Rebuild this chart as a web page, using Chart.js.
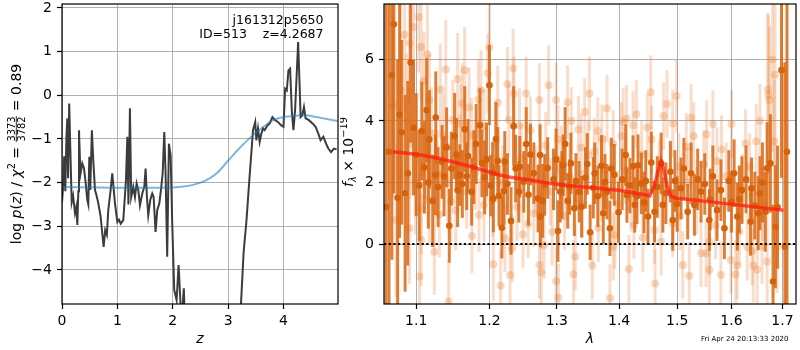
<!DOCTYPE html>
<html>
<head>
<meta charset="utf-8">
<script src="https://cdn.jsdelivr.net/npm/chart.js@4.4.1/dist/chart.umd.min.js"></script>
<style>
  html, body { margin: 0; padding: 0; background: #fff; overflow: hidden; }
  #wrap { position: relative; width: 800px; height: 350px; overflow: hidden; }
  canvas { position: absolute; top: -10px; }
  #pz { left: 0; }
  #spec { left: 340px; }
</style>
</head>
<body>
<div id="wrap">
  <canvas id="pz" width="340" height="360"></canvas>
  <canvas id="spec" width="460" height="360"></canvas>
</div>
<script>
const FONT = 'DejaVu Sans';
const OFF = 10; // both canvases start 10px above the page

// ---- left panel: log p(z) ----
const zGrid = [0.00, 0.02, 0.04, 0.06, 0.08, 0.096, 0.11, 0.13, 0.15, 0.175, 0.20, 0.235, 0.26, 0.277, 0.295,
  0.307, 0.325, 0.337, 0.367, 0.397, 0.427, 0.457, 0.475, 0.493, 0.51, 0.54, 0.565, 0.596, 0.625, 0.655,
  0.698, 0.734, 0.752, 0.78, 0.81, 0.836, 0.878, 0.908, 0.93, 0.957, 1.00, 1.03, 1.06, 1.107, 1.155,
  1.18, 1.20, 1.227, 1.25, 1.287, 1.318, 1.348, 1.378, 1.408, 1.45, 1.486, 1.51, 1.534, 1.558, 1.594,
  1.63, 1.655, 1.69, 1.72, 1.757, 1.787, 1.818, 1.847, 1.871, 1.90, 1.931, 1.962, 1.991, 2.027, 2.07,
  2.106, 2.14, 2.17, 2.20, 2.23, 2.40, 2.80, 3.10, 3.20, 3.28, 3.33, 3.39, 3.41, 3.45, 3.49,
  3.51, 3.54, 3.57, 3.60, 3.63, 3.66, 3.71, 3.75, 3.80, 3.84, 3.90, 3.96, 4.00, 4.03, 4.06,
  4.09, 4.12, 4.15, 4.18, 4.21, 4.24, 4.265, 4.29, 4.31, 4.34, 4.37, 4.40, 4.46, 4.53, 4.58,
  4.63, 4.67, 4.72, 4.77, 4.81, 4.86, 4.91, 4.96];
const logPz = [-2.45, -2.10, -1.40, -2.20, -0.95, -0.53, -1.90, -0.19, -1.20, -2.45, -2.30, -2.70, -2.55, -2.97, -2.20,
  -0.80, -1.50, -1.78, -1.56, -1.67, -2.00, -2.40, -2.50, -1.41, -2.17, -0.80, -1.49, -2.17, -2.30, -2.47,
  -2.78, -3.24, -3.47, -3.09, -3.20, -2.63, -2.17, -1.79, -2.10, -2.48, -2.90, -2.85, -2.94, -2.86, -1.95,
  -0.95, -2.50, -0.30, -2.33, -2.10, -2.33, -2.02, -2.17, -2.52, -2.25, -2.10, -1.68, -2.33, -2.75, -2.40,
  -2.25, -2.33, -3.13, -2.63, -2.48, -2.17, -1.79, -0.84, -1.79, -3.70, -1.11, -1.37, -2.94, -4.46, -4.69,
  -3.89, -4.76, -5.00, -4.42, -5.60, -9.00, -10.0, -8.00, -5.60, -3.60, -2.90, -1.83, -1.49, -0.80, -0.61,
  -1.03, -0.76, -1.07, -0.88, -0.76, -0.80, -0.69, -0.65, -0.50, -0.56, -0.61, -0.69, -0.72, 0.15, 0.11,
  0.57, 0.61, -0.34, -0.80, -0.34, 0.50, 1.22, 0.30, -0.50, -0.46, -0.27, -0.53, -0.57, -0.65, -0.72,
  -0.88, -1.03, -0.95, -1.11, -1.22, -1.30, -1.22, -1.24];
const priorZ = [0, 0.5, 1.0, 1.5, 2.0, 2.2, 2.4, 2.6, 2.8, 3.0, 3.2, 3.4, 3.6, 3.8, 4.0, 4.2, 4.4, 4.6, 4.8, 4.985];
const priorLogP = [-2.10, -2.11, -2.12, -2.12, -2.11, -2.09, -2.04, -1.95, -1.78, -1.50, -1.22, -0.97, -0.76,
  -0.58, -0.50, -0.47, -0.46, -0.50, -0.55, -0.59];
const zTicks = [0, 1, 2, 3, 4];
const pzTicks = [-4, -3, -2, -1, 0, 1, 2];
const zRange = [0, 4.985];
const pzRange = [-4.78, 2.09];

// ---- right panel: spectrum (units of 1e-19) ----
const darkWave = [1.0612, 1.0686, 1.0712, 1.0760, 1.0812, 1.0856, 1.0927, 1.0965, 1.1073, 1.1108, 1.1138, 1.1174,
  1.1218, 1.1253, 1.1343, 1.1405, 1.1441, 1.1514, 1.1555, 1.1586, 1.1653, 1.1698, 1.1749, 1.1812, 1.1894,
  1.1932, 1.2000, 1.2046, 1.2057, 1.2093, 1.2137, 1.2179, 1.2208, 1.2312, 1.2350, 1.2427, 1.2537, 1.2600,
  1.2714, 1.2750, 1.2784, 1.2860, 1.2950, 1.3019, 1.3054, 1.3080, 1.3100, 1.3130, 1.3170, 1.3220, 1.3275,
  1.3390, 1.3450, 1.3526, 1.3577, 1.3650, 1.3710, 1.3739, 1.3766, 1.3848, 1.3920, 1.3990, 1.4110, 1.4130,
  1.4234, 1.4262, 1.4318, 1.4375, 1.4450, 1.4488, 1.4545, 1.4602, 1.4717, 1.4747, 1.4921, 1.4960, 1.5068,
  1.5189, 1.5250, 1.5310, 1.5431, 1.5500, 1.5585, 1.5650, 1.5727, 1.5866, 1.5950, 1.6000, 1.6111, 1.6200,
  1.6366, 1.6385, 1.6515, 1.6550, 1.6657, 1.6692, 1.6757, 1.6810, 1.6857, 1.6980, 1.7048, 1.7091,
  1.0650, 1.0785, 1.0890, 1.1000, 1.1040, 1.1160, 1.1259, 1.1290, 1.1370, 1.1470, 1.1540, 1.1620, 1.1680,
  1.1780, 1.1866, 1.1960, 1.2020, 1.2120, 1.2221, 1.2260, 1.2380, 1.2441, 1.2500, 1.2570, 1.2650, 1.2745,
  1.2815, 1.2990, 1.3200, 1.3300, 1.3350, 1.3480, 1.3600, 1.3800, 1.3870, 1.4050, 1.4180, 1.4300, 1.4420,
  1.4650, 1.4800, 1.4880, 1.5000, 1.5120, 1.5370, 1.5600, 1.5800, 1.6050, 1.6150, 1.6280, 1.6450, 1.6600,
  1.6900];
const darkFlux = [1.20, 5.49, 7.14, 1.50, 3.63, 1.65, 5.90, 3.78, 3.67, 2.49, 4.35, 3.40,
  1.40, 2.24, 2.67, 3.14, 0.59, 3.51, 1.75, 2.24, 3.73, 2.86, 1.70, 3.25, 2.62,
  2.16, 5.16, 2.31, 1.48, 3.41, 1.57, 0.53, 1.72, 0.75, 3.83, 1.70, 3.25, 2.91,
  1.48, 0.89, 1.40, 2.47, 2.10, 0.42, 1.70, 1.92, 2.56, 3.25, 1.40, 2.62, 1.16,
  1.21, 2.15, 0.38, 1.83, 1.55, 2.54, 1.00, 2.02, 0.51, 2.25, 1.03, 2.89, 1.59,
  2.53, 1.27, 2.56, 1.97, 2.05, 0.89, 2.65, 1.05, 2.62, 1.27, 0.78, 2.05, 1.81,
  1.05, 2.30, 1.27, 1.70, 1.95, 0.78, 2.20, 1.10, 0.51, 2.05, 1.37, 0.89, 1.75,
  0.72, 1.81, 1.00, 1.65, 1.05, 2.46, 2.62, -1.22, 0.56, 5.65, -0.09, 3.00,
  3.00, 4.20, 2.30, 2.90, 1.90, 2.00, 4.11, 1.85, 2.20, 2.45, 2.90, 1.95, 2.20,
  2.50, 3.86, 2.75, 1.90, 2.70, 2.67, 1.95, 2.45, 2.51, 2.02, 1.60, 2.30, 2.89,
  1.92, 2.75, 1.85, 2.05, 1.70, 2.60, 2.30, 1.70, 2.45, 2.10, 1.90, 1.55, 1.35,
  1.85, 1.65, 2.35, 1.30, 2.45, 2.10, 1.45, 1.75, 2.30, 1.45, 2.10, 1.25, 2.00,
  1.20];
const darkErr = [8.0, 6.0, 5.5, 4.5, 3.0, 3.2, 2.6, 2.2, 1.6, 1.5, 1.7, 1.6,
  1.5, 1.3, 1.2, 1.3, 1.2, 1.4, 1.2, 1.0, 1.4, 1.2, 1.1, 1.3, 1.1,
  1.2, 1.3, 1.0, 1.1, 1.2, 1.0, 1.0, 1.1, 1.1, 1.3, 1.0, 1.2, 1.0,
  1.1, 1.0, 1.2, 1.0, 1.0, 1.0, 1.0, 1.1, 1.0, 1.2, 0.9, 1.0, 0.9,
  1.0, 1.0, 0.9, 1.0, 1.0, 1.0, 1.0, 0.9, 0.9, 1.0, 1.0, 1.0, 0.9,
  1.0, 0.9, 1.0, 1.0, 1.0, 0.9, 1.0, 1.0, 1.0, 0.9, 1.0, 1.0, 1.0,
  0.9, 1.0, 1.0, 1.0, 1.0, 1.0, 1.0, 1.0, 1.0, 1.0, 1.0, 1.1, 1.1,
  1.1, 1.0, 1.2, 1.2, 1.3, 1.5, 1.6, 2.5, 2.0, 3.5, 6.0, 6.5,
  7.0, 4.0, 3.0, 2.0, 1.8, 1.5, 1.5, 1.3, 1.3, 1.2, 1.2, 1.1, 1.1,
  1.2, 1.2, 1.2, 1.0, 1.1, 1.0, 1.0, 1.1, 1.0, 1.0, 1.0, 1.0, 1.0,
  1.0, 1.0, 0.9, 0.9, 1.0, 1.0, 1.0, 0.9, 1.0, 1.0, 0.9, 0.9, 1.0,
  1.0, 1.0, 1.0, 0.9, 1.0, 1.0, 1.0, 1.0, 1.1, 1.1, 1.1, 1.1, 1.3,
  2.0];

const lightWave = [1.0740, 1.0800, 1.0850, 1.0913, 1.0913, 1.0920, 1.0965, 1.1034, 1.1043, 1.1065, 1.1065, 1.1065,
  1.1121, 1.1148, 1.1174, 1.1174, 1.1240, 1.1307, 1.1320, 1.1394, 1.1432, 1.1464, 1.1489, 1.1555, 1.1590,
  1.1616, 1.1653, 1.1714, 1.1749, 1.1753, 1.1844, 1.1853, 1.1923, 1.1923, 1.1978, 1.2000, 1.2046, 1.2056,
  1.2119, 1.2160, 1.2224, 1.2280, 1.2298, 1.2330, 1.2343, 1.2354, 1.2438, 1.2488, 1.2536, 1.2566, 1.2674,
  1.2734, 1.2736, 1.2762, 1.2805, 1.2875, 1.2928, 1.2990, 1.2990, 1.3019, 1.3025, 1.3070, 1.3168, 1.3228,
  1.3261, 1.3289, 1.3339, 1.3382, 1.3497, 1.3515, 1.3561, 1.3593, 1.3649, 1.3658, 1.3710, 1.3716, 1.3848,
  1.3902, 1.3902, 1.3929, 1.4038, 1.4067, 1.4123, 1.4163, 1.4234, 1.4248, 1.4290, 1.4477, 1.4536, 1.4602,
  1.4612, 1.4717, 1.4760, 1.4820, 1.4921, 1.4921, 1.4990, 1.5100, 1.5164, 1.5189, 1.5217, 1.5298, 1.5431,
  1.5524, 1.5534, 1.5585, 1.5585, 1.5727, 1.5800, 1.5811, 1.5989, 1.6080, 1.6111, 1.6206, 1.6270, 1.6302,
  1.6399, 1.6420, 1.6477, 1.6496, 1.6593, 1.6692, 1.6705, 1.6718, 1.6743, 1.6836, 1.6850, 1.6890,
  1.0700, 1.0880, 1.0990, 1.1100, 1.1200, 1.1280, 1.1360, 1.1420, 1.1530, 1.1600, 1.1680, 1.1800, 1.1880,
  1.1960, 1.2090, 1.2190, 1.2260, 1.2400, 1.2460, 1.2600, 1.2650, 1.2830, 1.2900, 1.3120, 1.3200, 1.3400,
  1.3440, 1.3760, 1.3800, 1.3980, 1.4100, 1.4200, 1.4380, 1.4400, 1.4550, 1.4680, 1.5030, 1.5050, 1.5250,
  1.5350, 1.5480, 1.5650, 1.5700, 1.5900, 1.6000, 1.6150, 1.6350, 1.6550, 1.6600, 1.6800];
const lightFlux = [0.78, 5.00, 6.80, 6.53, 0.51, 3.27, 7.05, 7.38, -1.06, 6.40, 0.13, 1.16,
  2.95, 6.17, 4.68, 1.43, -0.25, 0.96, 5.02, 5.67, -1.87, 1.37, 4.03, 5.36, 2.89,
  4.57, 5.65, 4.44, 3.54, 0.26, 4.70, 0.94, 3.83, 1.27, 5.55, 6.39, 1.43, -0.66,
  4.59, -1.36, 0.19, 4.03, -1.01, -0.14, 5.70, 4.89, 3.86, 0.31, 4.89, 0.64, 2.08,
  4.68, -0.68, -0.92, -0.03, 5.16, 0.40, 4.68, -1.20, 3.40, -1.74, 2.75, 4.61, 4.00,
  -0.98, -0.41, 3.72, 3.14, 2.89, 4.89, -0.70, 3.00, 3.67, 0.52, 1.82, 3.43, -1.76,
  3.25, -0.09, 0.29, 3.51, 3.97, 4.07, -0.81, 3.86, 0.62, 4.22, 3.79, 4.93, 0.45,
  -1.28, 0.07, 4.16, 4.55, 3.92, 0.67, 4.81, -0.68, 3.16, 2.01, -1.03, 3.51, -0.30,
  -0.30, 3.57, -0.84, 0.07, 2.70, -1.01, 3.08, -0.52, -0.98, -0.70, 1.82, 3.27, -0.09,
  -0.23, -0.70, 3.34, -0.84, -0.09, -0.57, 5.02, 4.84, 4.68, 3.34, 5.50, -0.09,
  4.50, 4.00, 2.00, 5.30, 3.60, 2.30, 3.50, 2.00, 1.10, 3.90, 1.70, 2.30, 5.00,
  2.60, 3.30, 2.00, 5.20, 1.20, 2.80, 3.70, 1.00, 3.20, 1.70, 0.90, 2.20, 1.30,
  4.30, 2.40, 4.40, 1.30, 2.40, 1.50, 2.90, 0.20, 3.40, 2.30, 2.50, 0.90, 4.10,
  1.40, 2.60, 3.90, 0.60, 2.20, 3.90, 0.40, 2.50, 4.00, 1.30, 6.00];
const lightErr = [2.5, 3.0, 2.5, 2.0, 1.8, 1.8, 2.2, 1.8, 1.6, 1.7, 1.5, 1.5,
  1.5, 1.6, 1.5, 1.4, 1.4, 1.4, 1.5, 1.6, 1.3, 1.3, 1.3, 1.5, 1.3,
  1.3, 1.4, 1.3, 1.2, 1.2, 1.3, 1.2, 1.2, 1.2, 1.3, 1.4, 1.2, 1.2,
  1.2, 1.2, 1.1, 1.2, 1.2, 1.1, 1.3, 1.2, 1.2, 1.1, 1.2, 1.1, 1.1,
  1.2, 1.1, 1.1, 1.1, 1.3, 1.1, 1.2, 1.1, 1.1, 1.1, 1.1, 1.2, 1.1,
  1.1, 1.1, 1.1, 1.1, 1.1, 1.2, 1.1, 1.1, 1.1, 1.1, 1.1, 1.1, 1.1,
  1.1, 1.1, 1.1, 1.1, 1.1, 1.1, 1.1, 1.1, 1.1, 1.1, 1.1, 1.2, 1.1,
  1.1, 1.1, 1.1, 1.1, 1.1, 1.1, 1.2, 1.1, 1.1, 1.1, 1.1, 1.1, 1.1,
  1.1, 1.1, 1.1, 1.1, 1.1, 1.1, 1.1, 1.1, 1.1, 1.1, 1.1, 1.1, 1.1,
  1.1, 1.2, 1.2, 1.2, 1.2, 1.5, 2.5, 2.6, 2.4, 2.0, 3.0, 1.5,
  3.0, 2.2, 1.7, 1.6, 1.5, 1.4, 1.4, 1.3, 1.3, 1.3, 1.2, 1.2, 1.3,
  1.2, 1.2, 1.2, 1.2, 1.1, 1.1, 1.1, 1.1, 1.1, 1.1, 1.1, 1.1, 1.1,
  1.1, 1.1, 1.1, 1.1, 1.1, 1.1, 1.1, 1.1, 1.1, 1.1, 1.1, 1.1, 1.1,
  1.1, 1.1, 1.1, 1.1, 1.1, 1.1, 1.1, 1.1, 1.2, 1.2, 3.0];

const modelWave = [1.070, 1.100, 1.131, 1.175, 1.213, 1.230, 1.260, 1.290, 1.310, 1.400, 1.446, 1.452,
  1.460, 1.466, 1.4717, 1.477, 1.482, 1.489, 1.500, 1.513, 1.586, 1.702];
const modelFlux = [3.00, 2.92, 2.78, 2.51, 2.25, 2.17, 2.08, 1.97, 1.92, 1.75, 1.59, 1.56,
  1.90, 2.35, 2.68, 2.35, 1.90, 1.55, 1.48, 1.46, 1.32, 1.10];

const waveTicks = [1.1, 1.2, 1.3, 1.4, 1.5, 1.6, 1.7];
const fluxTicks = [0, 2, 4, 6];
const waveRange = [1.0587, 1.7275];
const fluxRange = [-1.95, 7.80];

const fieldName = 'j161312p5650';
const objLabel = 'ID=513    z=4.2687';
const stamp = 'Fri Apr 24 20:13:33 2020';

const minus = v => (v < 0 ? '\u2212' + (-v) : String(v));
const tickFont = { family: FONT, size: 14 };
const pairs = (xs, ys) => xs.map((x, i) => ({ x: x, y: ys[i] }));

// full black box round the plot area
const frame = {
  id: 'frame',
  afterDraw(chart) {
    const { ctx, chartArea: a } = chart;
    ctx.save();
    ctx.strokeStyle = '#000';
    ctx.lineWidth = 1.2;
    ctx.strokeRect(a.left, a.top, a.right - a.left, a.bottom - a.top);
    ctx.restore();
  }
};

// vertical error bars, drawn just under each dataset's markers
const errorBars = {
  id: 'errorBars',
  beforeDatasetDraw(chart, args) {
    const ds = chart.data.datasets[args.index];
    if (!ds.errors) return;
    const { ctx, chartArea: a } = chart;
    const x = chart.scales.x, y = chart.scales.y;
    ctx.save();
    ctx.beginPath();
    ctx.rect(a.left, a.top, a.right - a.left, a.bottom - a.top);
    ctx.clip();
    ctx.strokeStyle = ds.errorColor;
    ctx.lineWidth = ds.errorWidth;
    ds.data.forEach((p, i) => {
      const px = x.getPixelForValue(p.x);
      ctx.beginPath();
      ctx.moveTo(px, y.getPixelForValue(p.y - ds.errors[i]));
      ctx.lineTo(px, y.getPixelForValue(p.y + ds.errors[i]));
      ctx.stroke();
    });
    ctx.restore();
  }
};

// rotated axis label built from runs: [text, size, italic, shift] or {num, den, size}
function drawRotated(ctx, cx, cy, runs) {
  const fontOf = (size, it) => (it ? 'italic ' : '') + size + 'px "' + FONT + '"';
  ctx.save();
  ctx.translate(cx, cy);
  ctx.rotate(-Math.PI / 2);
  ctx.fillStyle = '#000';
  ctx.strokeStyle = '#000';
  ctx.textBaseline = 'alphabetic';
  const widths = runs.map(r => {
    if (r.num) {
      ctx.font = fontOf(r.size, false);
      return Math.max(ctx.measureText(r.num).width, ctx.measureText(r.den).width) + 2;
    }
    ctx.font = fontOf(r[1], r[2]);
    return ctx.measureText(r[0]).width;
  });
  let u = -widths.reduce((s, w) => s + w, 0) / 2;
  runs.forEach((r, i) => {
    const w = widths[i];
    if (r.num) {
      ctx.font = fontOf(r.size, false);
      ctx.textAlign = 'center';
      ctx.fillText(r.num, u + w / 2, -5.5);
      ctx.fillText(r.den, u + w / 2, 4.5);
      ctx.lineWidth = 0.8;
      ctx.beginPath();
      ctx.moveTo(u + 0.5, -4.2);
      ctx.lineTo(u + w - 0.5, -4.2);
      ctx.stroke();
    } else {
      ctx.font = fontOf(r[1], r[2]);
      ctx.textAlign = 'left';
      ctx.fillText(r[0], u, r[3] || 0);
    }
    u += w;
  });
  ctx.restore();
}

const pzText = {
  id: 'pzText',
  afterDraw(chart) {
    const ctx = chart.ctx;
    ctx.save();
    ctx.fillStyle = '#000';
    ctx.font = '12.5px "' + FONT + '"';
    ctx.textAlign = 'right';
    ctx.textBaseline = 'middle';
    ctx.fillText(fieldName, 323.5, 20.7 + OFF);
    ctx.fillText(objLabel, 323.5, 35 + OFF);
    ctx.restore();
    drawRotated(ctx, 20.5, 154 + OFF, [
      ['log ', 14], ['p', 14, true], ['(', 14], ['z', 14, true], [') / ', 14],
      ['\u03c7', 14, true], ['2', 9.8, false, -6], [' = ', 14],
      { num: '3373', den: '3782', size: 9.8 }, [' = 0.89', 14]
    ]);
  }
};

const specText = {
  id: 'specText',
  afterDraw(chart) {
    const ctx = chart.ctx;
    drawRotated(ctx, 13, 152 + OFF, [
      ['f', 14, true], ['\u03bb', 9.8, true, 3], [' \u00d7 10', 14], ['\u221219', 9.8, false, -6]
    ]);
    ctx.save();
    ctx.fillStyle = '#000';
    ctx.font = '7px "' + FONT + '"';
    ctx.textAlign = 'right';
    ctx.textBaseline = 'middle';
    ctx.fillText(stamp, 788.5 - 340, 339.5 + OFF);
    ctx.restore();
  }
};

const gridOpts = { color: '#b0b0b0', lineWidth: 1, tickColor: '#000', tickWidth: 1.2, tickLength: 5 };
const base = {
  animation: false,
  responsive: false,
  devicePixelRatio: 1,
  events: [],
  plugins: { legend: { display: false }, tooltip: { enabled: false } }
};

new Chart(document.getElementById('pz'), {
  type: 'line',
  data: {
    datasets: [{
      data: pairs(priorZ, priorLogP),
      borderColor: 'rgba(31,119,180,0.55)',
      borderWidth: 2,
      pointRadius: 0,
      cubicInterpolationMode: 'monotone',
      clip: 0
    }, {
      data: pairs(zGrid, logPz),
      borderColor: '#3c3c3c',
      borderWidth: 2,
      pointRadius: 0,
      tension: 0,
      clip: 0
    }]
  },
  options: Object.assign({}, base, {
    layout: { padding: { left: 0, right: 2, top: 14, bottom: 0 } },
    scales: {
      x: {
        type: 'linear', min: zRange[0], max: zRange[1],
        afterBuildTicks: s => { s.ticks = zTicks.map(v => ({ value: v })); },
        afterFit: s => { s.height = 46; },
        grid: gridOpts, border: { display: false },
        ticks: { font: tickFont, color: '#000', padding: 4, maxRotation: 0, autoSkip: false, callback: minus },
        title: { display: true, text: 'z', color: '#000', font: { family: FONT, size: 14, style: 'italic' }, padding: { top: 0, bottom: 2 } }
      },
      y: {
        type: 'linear', min: pzRange[0], max: pzRange[1],
        afterBuildTicks: s => { s.ticks = pzTicks.map(v => ({ value: v })); },
        afterFit: s => { s.width = 62; },
        grid: gridOpts, border: { display: false },
        ticks: { font: tickFont, color: '#000', padding: 5, autoSkip: false, callback: minus }
      }
    }
  }),
  plugins: [frame, pzText]
});

new Chart(document.getElementById('spec'), {
  type: 'scatter',
  data: {
    datasets: [{
      data: [{ x: waveRange[0], y: 0 }, { x: waveRange[1], y: 0 }],
      showLine: true, pointRadius: 0,
      borderColor: '#000', borderWidth: 2, borderDash: [2.2, 2.5], clip: 0
    }, {
      data: pairs(modelWave, modelFlux),
      showLine: true, pointRadius: 0, tension: 0,
      borderColor: 'rgba(255,25,15,0.72)', borderWidth: 3.5, clip: 0
    }, {
      data: pairs(darkWave, darkFlux),
      errors: darkErr, errorColor: 'rgba(217,104,20,0.85)', errorWidth: 3,
      pointRadius: 3.3, pointBorderWidth: 0, backgroundColor: 'rgb(214,98,12)', clip: 0
    }, {
      data: pairs(lightWave, lightFlux),
      errors: lightErr, errorColor: 'rgba(230,125,50,0.26)', errorWidth: 3,
      pointRadius: 4, pointBorderWidth: 0, backgroundColor: 'rgba(230,125,50,0.3)', clip: 0
    }]
  },
  options: Object.assign({}, base, {
    layout: { padding: { left: 0, right: 1, top: 14, bottom: 0 } },
    scales: {
      x: {
        type: 'logarithmic', min: waveRange[0], max: waveRange[1],
        afterBuildTicks: s => { s.ticks = waveTicks.map(v => ({ value: v })); },
        afterFit: s => { s.height = 46; },
        grid: gridOpts, border: { display: false },
        ticks: { font: tickFont, color: '#000', padding: 4, maxRotation: 0, autoSkip: false, callback: v => Number(v).toFixed(1) },
        title: { display: true, text: '\u03bb', color: '#000', font: { family: FONT, size: 14, style: 'italic' }, padding: { top: 0, bottom: 2 } }
      },
      y: {
        type: 'linear', min: fluxRange[0], max: fluxRange[1],
        afterBuildTicks: s => { s.ticks = fluxTicks.map(v => ({ value: v })); },
        afterFit: s => { s.width = 44; },
        grid: gridOpts, border: { display: false },
        ticks: { font: tickFont, color: '#000', padding: 5, autoSkip: false, callback: minus }
      }
    }
  }),
  plugins: [errorBars, frame, specText]
});
</script>
</body>
</html>
